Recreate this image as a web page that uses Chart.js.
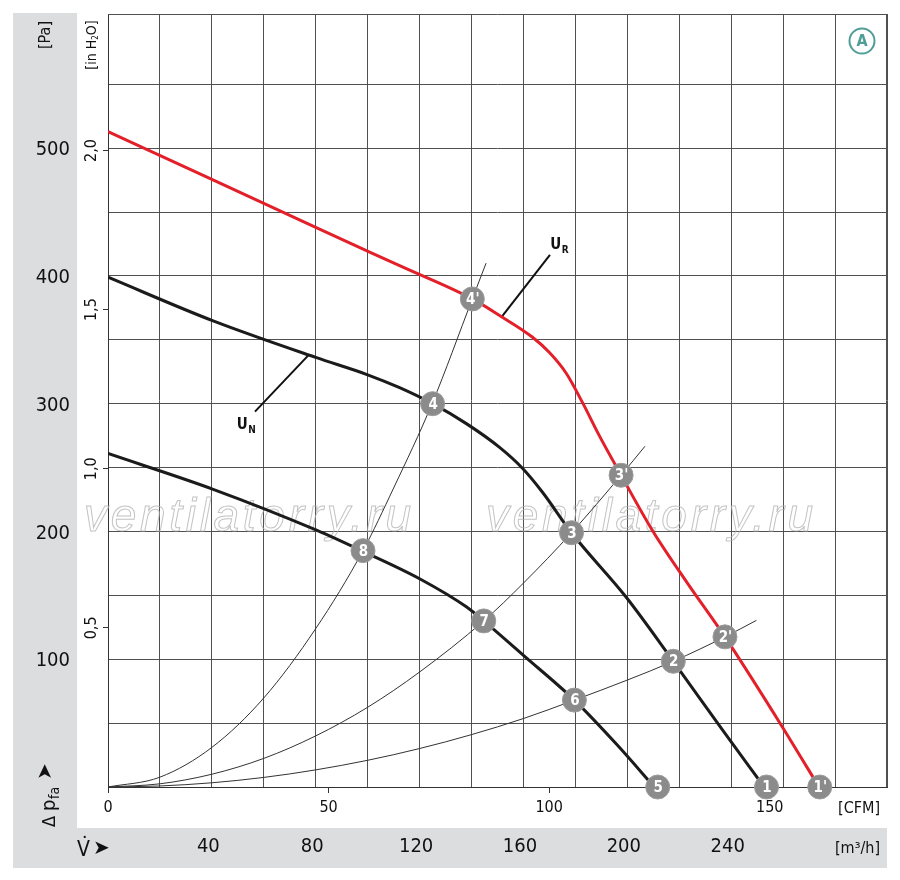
<!DOCTYPE html>
<html>
<head>
<meta charset="utf-8">
<script src="https://cdn.jsdelivr.net/npm/chart.js@4.4.1/dist/chart.umd.min.js"></script>
<style>
html,body{margin:0;padding:0;background:#fff;}
#wrap{width:900px;height:880px;position:relative;}
</style>
</head>
<body>
<div id="wrap"><canvas id="c" width="900" height="880"></canvas></div>
<script>
// ---------- data (x in m³/h, y in Pa) ----------
const gridFlow = [0,20,40,60,80,100,120,140,160,180,200,220,240,260,280,300];
const flowTicksM3h = [40,80,120,160,200,240];
const flowTicksCFM = [0,50,100,150];
const gridPa = [0,50,100,150,200,250,300,350,400,450,500,550];
const paTicks = [100,200,300,400,500];
const inh2oTicks = [0.5,1.0,1.5,2.0];
const inh2oLabels = ['0,5','1,0','1,5','2,0'];
const M3H_PER_CFM = 1.699;
const PA_PER_INH2O = 249.089;
const FLOW_MAX = 300;
const PA_MAX = 605;

// fan curve U_R (red)
const urX = [0, 40, 80, 112.3, 140.3, 150.8, 163.5, 170, 176.4, 182.7, 189.2, 197.6, 209.6, 223, 237.6, 259.7, 273.8];
const urY = [513, 475.5, 438, 408, 382, 369, 352, 340, 324, 301, 275, 244, 201, 160, 117.5, 47, 0];
// fan curve U_N (black, upper)
const unX = [0, 40.5, 80.3, 99.5, 112.3, 125, 138, 150.8, 159.7, 167.4, 178.5, 199.5, 217.7, 236.7, 252.7];
const unY = [399, 364.8, 336, 323, 312.5, 300, 284.4, 265.8, 249.3, 230.5, 199, 148.7, 98.4, 44.5, 0];
// fan curve (black, lower)
const lowX = [0, 40.5, 80.3, 98.2, 120, 138, 144.7, 160, 179.6, 195.6, 210.4];
const lowY = [261, 233, 201, 184.4, 163, 141, 130, 103, 68, 34, 0];
// system curves (thin)
const sysAX = [0, 20, 40, 60, 80, 98.2, 110, 124.8, 140.3, 145.6];
const sysAY = [0, 7.7, 31, 69.7, 124, 185, 234, 300, 382, 410];
const sysBX = [0, 20, 40, 60, 80, 100, 120, 144.7, 160, 178.5, 197.6, 206.8];
const sysBY = [0, 2.5, 10, 22.4, 40, 62.4, 90, 130, 159.6, 199, 244, 266.7];
const sysCX = [0, 20, 40, 60, 80, 100, 120, 140, 160, 179.6, 200, 217.7, 237.6, 249.7];
const sysCY = [0, 0.8, 3.3, 7.5, 13.4, 20.9, 30.1, 41, 53.6, 68, 83.7, 98.4, 117.5, 130.4];
// operating points
const markLabels = ['1','2','3','4','5','6','7','8',"1'","2'","3'","4'"];
const markX = [253.6, 217.7, 178.5, 125, 211.7, 179.6, 144.7, 98.2, 274.1, 237.6, 197.6, 140.3];
const markY = [0, 98.4, 199, 300, 0, 68, 130, 185, 0, 117.5, 244, 382];
// curve name leaders
const urLeaderX = [170.2, 151.6];
const urLeaderY = [416.4, 368];
const unLeaderX = [56.6, 77.5];
const unLeaderY = [293.8, 338.6];
const curveNames = [{main:'U', sub:'R', x:170.3, y:421}, {main:'U', sub:'N', x:49.6, y:280.5}];
const watermark = 'ventilatorry.ru';

// ---------- helpers ----------
const NARROW = '"DejaVu Sans Condensed","Liberation Sans Narrow","Liberation Sans",sans-serif';
const zip = (xs, ys) => xs.map((x, i) => ({x, y: ys[i]}));
const GRID = '#505050';

function lineDS(xs, ys, color, width, order) {
  return {type:'line', data: zip(xs, ys), borderColor: color, borderWidth: width,
    pointRadius: 0, fill: false, cubicInterpolationMode: 'monotone',
    xAxisID: 'x', yAxisID: 'y', order: order};
}
function noPad(s) { s.paddingTop = 0; s.paddingBottom = 0; s.paddingLeft = 0; s.paddingRight = 0; }

const bgPlugin = {
  id: 'bg',
  beforeDraw(chart) {
    const ctx = chart.ctx;
    ctx.save();
    ctx.fillStyle = '#fff';
    ctx.fillRect(0, 0, 900, 880);
    ctx.fillStyle = '#dcdddf';
    ctx.fillRect(13, 13, 64, 855);
    ctx.fillRect(13, 828, 874, 40);
    ctx.restore();
  },
  beforeDatasetsDraw(chart) {
    const ctx = chart.ctx;
    const a = chart.chartArea;
    ctx.save();
    ctx.strokeStyle = GRID;
    ctx.lineWidth = 1;
    ctx.beginPath();
    ctx.moveTo(a.left, a.top + 0.5); ctx.lineTo(a.right, a.top + 0.5);
    ctx.moveTo(a.right - 0.5, a.top); ctx.lineTo(a.right - 0.5, a.bottom);
    ctx.stroke();
    // watermark
    ctx.font = 'italic 46px "Liberation Sans", Arial, sans-serif';
    try { ctx.letterSpacing = '3.7px'; } catch (e) {}
    ctx.strokeStyle = 'rgba(175,175,175,0.75)';
    ctx.lineWidth = 1;
    ctx.textBaseline = 'alphabetic';
    ctx.strokeText(watermark, 84, 531);
    ctx.strokeText(watermark, 486, 531);
    ctx.restore();
  },
  afterDatasetsDraw(chart) {
    const ctx = chart.ctx;
    const xs = chart.scales.x, ys = chart.scales.y;
    ctx.save();
    // marker labels
    const meta = chart.getDatasetMeta(chart.data.datasets.length - 1);
    ctx.fillStyle = '#fff';
    ctx.font = 'bold 15px ' + NARROW;
    ctx.textAlign = 'center';
    ctx.textBaseline = 'middle';
    meta.data.forEach((pt, i) => {
      ctx.fillText(markLabels[i], pt.x + 0.5, pt.y + 1);
    });
    // curve names
    ctx.fillStyle = '#111';
    ctx.textAlign = 'left';
    ctx.textBaseline = 'alphabetic';
    curveNames.forEach(n => {
      const px = xs.getPixelForValue(n.x), py = ys.getPixelForValue(n.y);
      ctx.font = 'bold 15px ' + NARROW;
      ctx.fillText(n.main, px, py);
      const w = ctx.measureText(n.main).width;
      ctx.font = 'bold 10px ' + NARROW;
      ctx.fillText(n.sub, px + w + 0.5, py + 4);
    });
    ctx.restore();
  },
  afterDraw(chart) {
    const ctx = chart.ctx;
    const yi = chart.scales.yi;
    ctx.save();
    ctx.fillStyle = '#111';
    // in H2O labels (rotated)
    ctx.font = '16px ' + NARROW;
    inh2oTicks.forEach((v, i) => {
      const py = yi.getPixelForValue(v);
      ctx.save();
      ctx.translate(92, py);
      ctx.rotate(-Math.PI / 2);
      ctx.textAlign = 'center';
      ctx.textBaseline = 'middle';
      ctx.fillText(inh2oLabels[i], 0, 0);
      ctx.restore();
    });
    // [Pa]
    ctx.save();
    ctx.translate(46, 35);
    ctx.rotate(-Math.PI / 2);
    ctx.textAlign = 'center';
    ctx.textBaseline = 'middle';
    ctx.font = '16px ' + NARROW;
    ctx.fillText('[Pa]', 0, 0);
    ctx.restore();
    // [in H2O]
    ctx.save();
    ctx.translate(92, 45);
    ctx.rotate(-Math.PI / 2);
    ctx.textAlign = 'left';
    ctx.textBaseline = 'middle';
    const f1 = '14px ' + NARROW, f2 = '8px ' + NARROW;
    ctx.font = f1;
    const wa = ctx.measureText('[in H').width, wc = ctx.measureText('O]').width;
    ctx.font = f2;
    const wb = ctx.measureText('2').width;
    let sx = -(wa + wb + wc) / 2;
    ctx.font = f1; ctx.fillText('[in H', sx, 0);
    ctx.font = f2; ctx.fillText('2', sx + wa, 4);
    ctx.font = f1; ctx.fillText('O]', sx + wa + wb, 0);
    ctx.restore();
    // Delta p_fa arrow
    ctx.save();
    ctx.translate(49, 827);
    ctx.rotate(-Math.PI / 2);
    ctx.textAlign = 'left';
    ctx.textBaseline = 'alphabetic';
    ctx.font = '18px ' + NARROW;
    ctx.fillText('\u0394', 0, 6);
    ctx.font = '20px ' + NARROW;
    ctx.fillText('p', 16, 6);
    ctx.font = '14px ' + NARROW;
    ctx.fillText('fa', 28, 10);
    ctx.font = '20px "DejaVu Sans", sans-serif';
    ctx.textBaseline = 'middle';
    ctx.fillText('\u27A4', 47, -3);
    ctx.restore();
    // V-dot arrow
    ctx.font = '21px ' + NARROW;
    ctx.textAlign = 'left';
    ctx.textBaseline = 'alphabetic';
    ctx.fillText('V', 77, 856);
    ctx.fillText('\u02D9', 80, 852);
    ctx.font = '20px "DejaVu Sans", sans-serif';
    ctx.textBaseline = 'middle';
    ctx.fillText('\u27A4', 93, 849);
    // unit labels
    ctx.font = '16px ' + NARROW;
    ctx.textAlign = 'right';
    ctx.textBaseline = 'middle';
    ctx.fillText('[CFM]', 880, 809);
    ctx.fillText('[m\u00B3/h]', 880, 849);
    // circled A
    ctx.strokeStyle = '#4f9d97';
    ctx.lineWidth = 2;
    ctx.beginPath();
    ctx.arc(862, 41, 12.5, 0, Math.PI * 2);
    ctx.stroke();
    ctx.fillStyle = '#4f9d97';
    ctx.font = 'bold 16px ' + NARROW;
    ctx.textAlign = 'center';
    ctx.fillText('A', 862, 42);
    ctx.restore();
  }
};

const datasets = [
  lineDS(sysAX, sysAY, '#333', 1, 5),
  lineDS(sysBX, sysBY, '#333', 1, 5),
  lineDS(sysCX, sysCY, '#333', 1, 5),
  lineDS(urLeaderX, urLeaderY, '#111', 2, 4),
  lineDS(unLeaderX, unLeaderY, '#111', 2, 4),
  lineDS(lowX, lowY, '#1b1b1b', 3, 3),
  lineDS(unX, unY, '#1b1b1b', 3, 3),
  lineDS(urX, urY, '#e3202a', 3, 2),
  {type:'scatter', data: zip(markX, markY), pointRadius: 12, pointHoverRadius: 12,
   backgroundColor: '#8b8b8b', borderColor: '#9d9d9d', borderWidth: 1,
   xAxisID:'x', yAxisID:'y', clip: false, order: 0}
];

new Chart(document.getElementById('c'), {
  data: {datasets},
  plugins: [bgPlugin],
  options: {
    responsive: false,
    animation: false,
    devicePixelRatio: 1,
    events: [],
    layout: {padding: {left: 0, right: 13, top: 14, bottom: 12}},
    plugins: {legend: {display: false}, tooltip: {enabled: false}},
    scales: {
      x: {
        type: 'linear', position: 'bottom', min: 0, max: FLOW_MAX, weight: 1,
        afterBuildTicks: s => { s.ticks = gridFlow.map(v => ({value: v})); },
        afterFit: s => { s.height = 47; noPad(s); },
        grid: {color: GRID, lineWidth: 1, drawTicks: false},
        border: {display: false},
        ticks: {autoSkip: false, maxRotation: 0, minRotation: 0, padding: 14, labelOffset: -3.5,
          color: '#111', font: {family: NARROW, size: 20},
          callback: v => flowTicksM3h.includes(v) ? String(v) : ''}
      },
      xc: {
        type: 'linear', position: 'bottom', min: 0, max: FLOW_MAX / M3H_PER_CFM, weight: 0,
        afterBuildTicks: s => { s.ticks = flowTicksCFM.map(v => ({value: v})); },
        afterFit: s => { s.height = 34; noPad(s); },
        grid: {drawOnChartArea: false, drawTicks: true, tickLength: 6, color: '#333'},
        border: {display: true, color: '#333', width: 1},
        ticks: {autoSkip: false, maxRotation: 0, minRotation: 0, padding: 5,
          color: '#111', font: {family: NARROW, size: 16},
          callback: v => String(v)}
      },
      y: {
        type: 'linear', position: 'left', min: 0, max: PA_MAX, weight: 1,
        afterBuildTicks: s => { s.ticks = gridPa.map(v => ({value: v})); },
        afterFit: s => { s.width = 78; noPad(s); },
        grid: {color: GRID, lineWidth: 1, drawTicks: false},
        border: {display: false},
        ticks: {autoSkip: false, padding: 8, labelOffset: 2, color: '#111',
          font: {family: NARROW, size: 20},
          callback: v => paTicks.includes(v) ? String(v) : ''}
      },
      yi: {
        type: 'linear', position: 'left', min: 0, max: PA_MAX / PA_PER_INH2O, weight: 0,
        afterBuildTicks: s => { s.ticks = inh2oTicks.map(v => ({value: v})); },
        afterFit: s => { s.width = 30; noPad(s); },
        grid: {drawOnChartArea: false, drawTicks: true, tickLength: 5, color: '#333'},
        border: {display: true, color: '#333', width: 1},
        ticks: {display: false}
      }
    }
  }
});
</script>
</body>
</html>
